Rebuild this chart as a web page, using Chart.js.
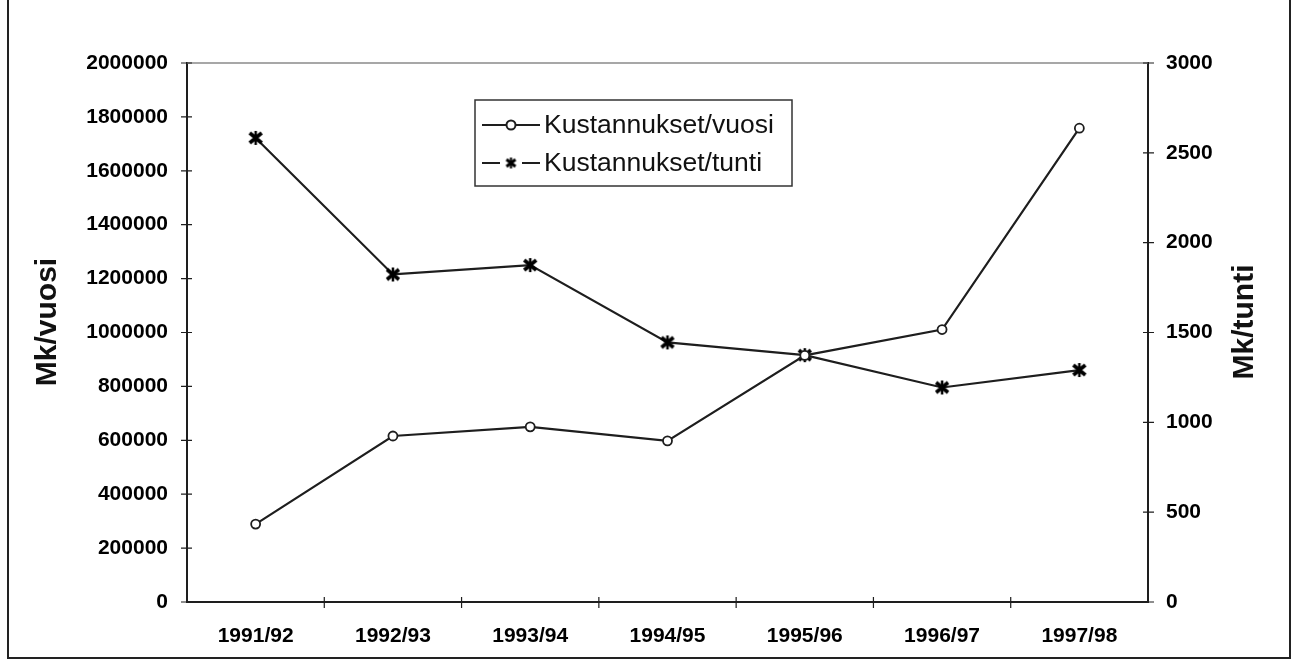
<!DOCTYPE html>
<html>
<head>
<meta charset="utf-8">
<script src="https://cdn.jsdelivr.net/npm/chart.js@4.4.0/dist/chart.umd.min.js"></script>
<style>
    html, body { margin: 0; padding: 0; background: #fff; }
    #wrap { width: 1292px; height: 661px; position: relative; }
</style>
</head>
<body>
<div id="wrap"><canvas id="kust-canvas"></canvas></div>
<script>
// ========== Data
let seasons = ['1991/92', '1992/93', '1993/94', '1994/95', '1995/96', '1996/97', '1997/98'];
let costPerYear = [289000, 616000, 650000, 598000, 915000, 1011000, 1758000];
let costPerHour = [2583, 1823, 1875, 1445, 1374, 1194, 1291];
let seriesNames = ['Kustannukset/vuosi', 'Kustannukset/tunti'];
let axisTitles = ['Mk/vuosi', 'Mk/tunti'];
let leftMax = 2000000, leftStep = 200000;
let rightMax = 3000, rightStep = 500;

// ========== Styles
let inkColor = '#1e1e1e';
let fontFamily = 'Arial, "Liberation Sans", Helvetica, sans-serif';

// marker: a bold x with a short vertical stroke, like the scanned one
function makeStarMarker(size, w) {
    let c = document.createElement('canvas');
    c.width = size; c.height = size;
    let g = c.getContext('2d');
    let m = 2, s = size - 2, h = size / 2;
    g.strokeStyle = '#000';
    g.lineCap = 'butt';
    g.lineWidth = w;
    g.beginPath();
    g.moveTo(m, m + 1); g.lineTo(s, s - 1);
    g.moveTo(s, m + 1); g.lineTo(m, s - 1);
    g.stroke();
    g.lineWidth = w * 0.7;
    g.beginPath();
    g.moveTo(h, 1); g.lineTo(h, size - 1);
    g.stroke();
    return c;
}
let starMarker = makeStarMarker(16, 3.6);
let legendStar = makeStarMarker(13, 3);

// @ ========== Frame, plot border, crossing ticks, axis titles, legend
let decorPlugin = {
    id: 'decor',
    beforeDraw(chart) {
        let ctx = chart.ctx;
        ctx.save();
        ctx.fillStyle = '#fff';
        ctx.fillRect(0, 0, chart.width, chart.height);
        // outer frame
        ctx.strokeStyle = '#222';
        ctx.lineWidth = 2;
        ctx.beginPath();
        ctx.moveTo(8, 0); ctx.lineTo(8, 658); ctx.lineTo(1290, 658); ctx.lineTo(1290, 0);
        ctx.stroke();
        ctx.restore();
    },
    afterDraw(chart) {
        let ctx = chart.ctx;
        let area = chart.chartArea;
        let x = chart.scales.x, y = chart.scales.y, y1 = chart.scales.y1;
        ctx.save();
        // top border of plot
        ctx.strokeStyle = '#8a8a8a';
        ctx.lineWidth = 1.5;
        ctx.beginPath();
        ctx.moveTo(area.left, area.top); ctx.lineTo(area.right, area.top);
        ctx.stroke();
        // ticks crossing the axes
        ctx.strokeStyle = inkColor;
        ctx.lineWidth = 1.2;
        ctx.beginPath();
        y.ticks.forEach((t, i) => {
            let py = y.getPixelForTick(i);
            ctx.moveTo(area.left - 6, py); ctx.lineTo(area.left + 5, py);
        });
        y1.ticks.forEach((t, i) => {
            let py = y1.getPixelForTick(i);
            ctx.moveTo(area.right - 5, py); ctx.lineTo(area.right + 6, py);
        });
        for (let i = 0; i < seasons.length - 1; i++) {
            let px = (x.getPixelForValue(i) + x.getPixelForValue(i + 1)) / 2;
            ctx.moveTo(px, area.bottom - 5); ctx.lineTo(px, area.bottom + 6);
        }
        ctx.stroke();

        // axis titles, both read bottom to top
        ctx.fillStyle = '#111';
        ctx.font = 'bold 30px ' + fontFamily;
        ctx.textAlign = 'center';
        ctx.textBaseline = 'middle';
        [[48, axisTitles[0]], [1245, axisTitles[1]]].forEach(([tx, label]) => {
            ctx.save();
            ctx.translate(tx, 322);
            ctx.rotate(-Math.PI / 2);
            ctx.fillText(label, 0, 0);
            ctx.restore();
        });

        // legend box
        ctx.strokeStyle = '#333';
        ctx.lineWidth = 1.5;
        ctx.strokeRect(475, 100, 317, 86);
        ctx.font = '26.5px ' + fontFamily;
        ctx.textAlign = 'left';
        let rows = [125, 163];
        ctx.lineWidth = 2;
        ctx.strokeStyle = inkColor;
        // row 1: line with circle
        ctx.beginPath();
        ctx.moveTo(482, rows[0]); ctx.lineTo(540, rows[0]);
        ctx.stroke();
        ctx.beginPath();
        ctx.arc(511, rows[0], 4.5, 0, Math.PI * 2);
        ctx.fillStyle = '#fff';
        ctx.fill();
        ctx.stroke();
        // row 2: dashes with marker
        ctx.beginPath();
        ctx.moveTo(482, rows[1]); ctx.lineTo(500, rows[1]);
        ctx.moveTo(522, rows[1]); ctx.lineTo(540, rows[1]);
        ctx.stroke();
        ctx.drawImage(legendStar, 504.5, rows[1] - 6.5);
        ctx.fillStyle = '#111';
        ctx.fillText(seriesNames[0], 544, rows[0] + 1);
        ctx.fillText(seriesNames[1], 544, rows[1] + 1);
        ctx.restore();
    }
};

// @ ========== Line chart
function renderCostChart() {
    let canvas = document.getElementById('kust-canvas');
    let tickFont = { family: fontFamily, size: 21, weight: 'bold' };
    return new Chart(canvas, {
        type: 'line',
        data: {
            labels: seasons,
            datasets: [
                {
                    label: seriesNames[0],
                    data: costPerYear,
                    yAxisID: 'y',
                    borderColor: inkColor,
                    borderWidth: 2.2,
                    pointStyle: 'circle',
                    pointRadius: 4.5,
                    pointBackgroundColor: '#fff',
                    pointBorderColor: inkColor,
                    pointBorderWidth: 1.8,
                    tension: 0
                },
                {
                    label: seriesNames[1],
                    data: costPerHour,
                    yAxisID: 'y1',
                    borderColor: inkColor,
                    borderWidth: 2.2,
                    pointStyle: starMarker,
                    pointRadius: 8,
                    tension: 0
                }
            ]
        },
        options: {
            responsive: true,
            maintainAspectRatio: false,
            animation: false,
            layout: { padding: { top: 63, left: 0, right: 0, bottom: 0 } },
            plugins: {
                legend: { display: false },
                tooltip: { enabled: false }
            },
            scales: {
                x: {
                    offset: true,
                    grid: { display: false, drawTicks: false },
                    border: { color: inkColor, width: 2 },
                    ticks: { color: '#000', font: tickFont, padding: 22, maxRotation: 0 },
                    afterFit(scale) { scale.height = 59; }
                },
                y: {
                    position: 'left',
                    min: 0,
                    max: leftMax,
                    grid: { display: false, drawTicks: false },
                    border: { color: inkColor, width: 2 },
                    ticks: {
                        stepSize: leftStep,
                        color: '#000',
                        font: tickFont,
                        padding: 19,
                        callback: (v) => String(v)
                    },
                    afterFit(scale) { scale.width = 187; }
                },
                y1: {
                    position: 'right',
                    min: 0,
                    max: rightMax,
                    grid: { display: false, drawTicks: false },
                    border: { color: inkColor, width: 2 },
                    ticks: {
                        stepSize: rightStep,
                        color: '#000',
                        font: tickFont,
                        padding: 18,
                        callback: (v) => String(v)
                    },
                    afterFit(scale) { scale.width = 144; }
                }
            }
        },
        plugins: [decorPlugin]
    });
}

renderCostChart();
</script>
</body>
</html>
